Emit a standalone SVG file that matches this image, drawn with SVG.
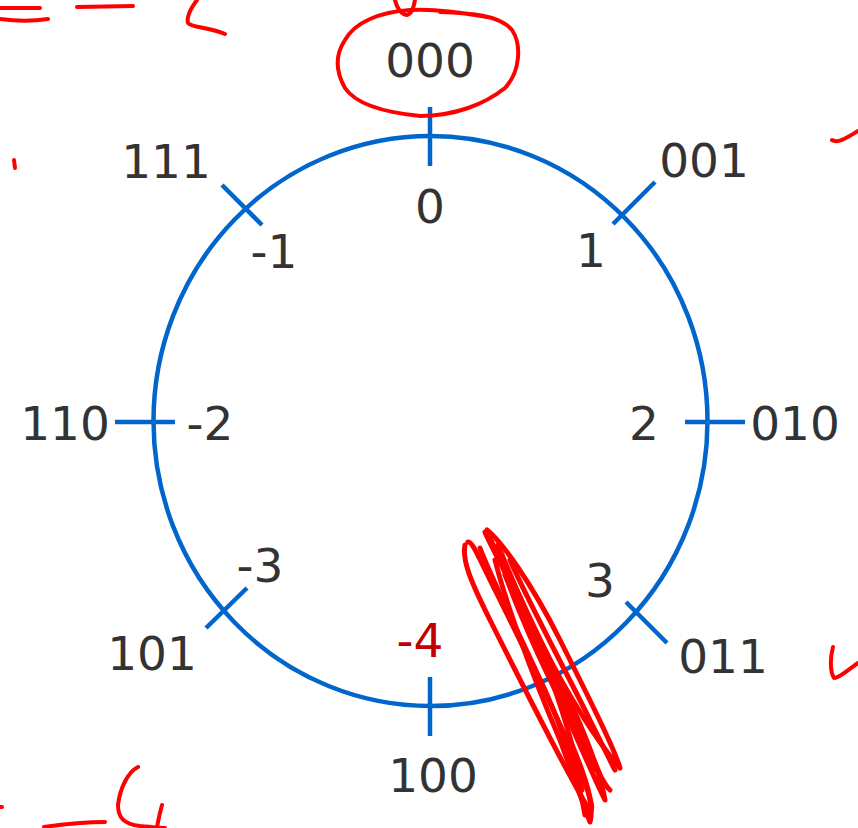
<svg xmlns="http://www.w3.org/2000/svg" width="858" height="828" viewBox="0 0 858 828">
<style>
.ring{fill:none;stroke:#0066CC;stroke-width:4.5}
.tick{stroke:#0066CC;stroke-width:4.5;fill:none}
text{font-family:"DejaVu Sans","Verdana",sans-serif;font-size:47px;fill:#333333;text-anchor:middle}
.neg{fill:#C00000}
.ink{fill:none;stroke:#FF0000;stroke-width:4;stroke-linecap:round;stroke-linejoin:round}
.scr{fill:none;stroke:#FF0000;stroke-width:5;stroke-linecap:round;stroke-linejoin:round}
</style>
<rect width="858" height="828" fill="#FFFFFF"/>
<g id="ring"><ellipse class="ring" cx="430.5" cy="421" rx="277" ry="285"/></g>
<g id="connectors">
<line class="tick" x1="430" y1="107" x2="430" y2="166"/>
<line class="tick" x1="430" y1="677" x2="430" y2="736"/>
<line class="tick" x1="115" y1="422" x2="175" y2="422"/>
<line class="tick" x1="685" y1="422" x2="745" y2="422"/>
<line class="tick" x1="613" y1="224" x2="655" y2="182"/>
<line class="tick" x1="222" y1="185" x2="262" y2="225"/>
<line class="tick" x1="206" y1="628" x2="247" y2="588"/>
<line class="tick" x1="626" y1="602" x2="667" y2="643"/>
</g>
<g id="n0"><text x="430" y="77">000</text><text x="430" y="223">0</text></g>
<g id="n1"><text x="704" y="177">001</text><text x="591" y="267">1</text></g>
<g id="n2"><text x="795" y="440">010</text><text x="644" y="440">2</text></g>
<g id="n3"><text x="723" y="673">011</text><text x="600" y="597">3</text></g>
<g id="n4"><text x="433" y="792">100</text><text class="neg" x="420" y="657">-4</text></g>
<g id="n5"><text x="152" y="670">101</text><text x="260" y="582">-3</text></g>
<g id="n6"><text x="65" y="440">110</text><text x="210" y="440">-2</text></g>
<g id="n7"><text x="166" y="178">111</text><text x="274" y="268">-1</text></g>
<g id="ink">
<path class="ink" d="M487,17 C470,14 440,8 410,10 C380,12 355,22 345,40 C335,55 336,72 345,88 C355,103 380,112 420,116 C455,116 485,104 505,88 C520,72 522,45 512,30 C500,15 470,13 440,12"/>
<path class="ink" d="M395,0 C397,8 400,14 407,15 C412,14 414,6 415,0"/>
<path class="ink" d="M0,8 L40,8"/>
<path class="ink" d="M0,19 C15,21 35,21 48,19"/>
<path class="ink" d="M77,7 L133,6"/>
<path class="ink" d="M197,0 C191,8 186,16 188,23 C192,28 210,27 225,34"/>
<path class="ink" d="M14,160 L15,168"/>
<path class="ink" d="M832,140 C838,144 848,137 858,131"/>
<path class="ink" d="M833,647 C830,658 830,672 834,678 C840,678 850,668 858,663"/>
<path class="ink" d="M0,807 L2,807"/>
<path class="ink" d="M44,827 C65,824 90,822 105,822"/>
<path class="ink" d="M138,767 C128,772 120,788 118,805 C118,818 124,824 140,826 C150,827 160,828 165,828"/>
<path class="ink" d="M162,805 C160,813 158,820 157,828"/>
<path class="scr" d="M465,545 C462,560 470,580 490,620 C520,680 560,760 588,808 C595,815 592,800 580,770 C555,710 520,640 495,590 C480,560 472,540 468,542"/>
<path class="scr" d="M485,532 C490,545 510,580 540,640 C570,700 600,745 620,768 C615,750 590,700 560,640 C530,580 500,540 487,530"/>
<path class="scr" d="M500,555 C505,580 530,640 560,700 C580,745 595,780 605,800 C600,770 580,720 555,670 C530,620 510,575 500,555"/>
<path class="scr" d="M495,560 C505,600 530,670 560,740 C575,780 585,810 590,822 C595,805 585,775 570,740"/>
<path class="scr" d="M510,560 C525,595 560,660 590,720 C605,750 612,765 615,770"/>
<path class="scr" d="M480,548 C490,575 515,625 545,690 C565,735 580,785 585,815"/>
<path class="scr" d="M505,575 C520,610 545,665 570,715 C590,755 603,785 610,790"/>
<path class="scr" d="M498,545 C510,575 530,620 555,675 C575,720 595,760 600,775"/>
<path class="scr" d="M515,590 C530,625 550,670 575,725 C585,748 592,765 596,770"/>
<path class="scr" d="M490,538 C500,560 520,600 540,650 C560,700 575,750 582,790"/>
</g>
</svg>
